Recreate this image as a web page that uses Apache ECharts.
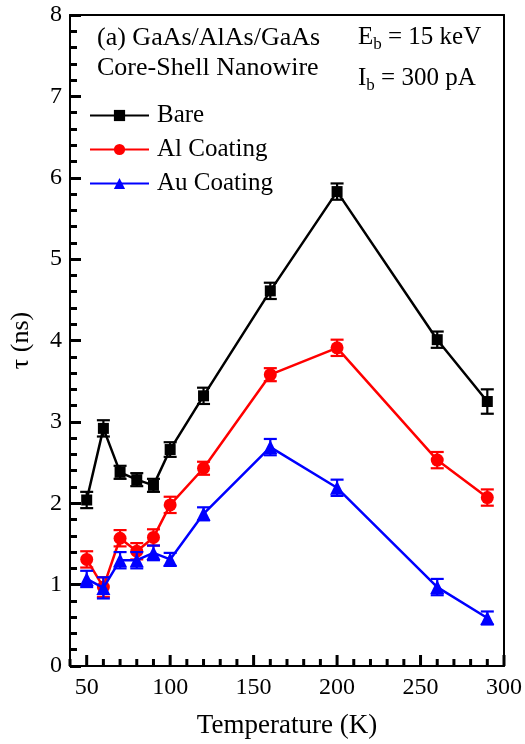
<!DOCTYPE html>
<html>
<head>
<meta charset="utf-8">
<script src="https://cdn.jsdelivr.net/npm/echarts@6/dist/echarts.min.js"></script>
<style>
  html, body { margin: 0; padding: 0; background: #fff; }
  #chart { width: 525px; height: 744px; }
</style>
</head>
<body>
<div id="chart"></div>
<script>
// Carrier lifetime vs temperature for GaAs/AlAs/GaAs core-shell nanowires
const temperatures = [50, 60, 70, 80, 90, 100, 120, 160, 200, 260, 290];

const bareTau = [2.04, 2.92, 2.38, 2.29, 2.22, 2.66, 3.32, 4.61, 5.83, 4.01, 3.25];
const bareErr = [0.10, 0.10, 0.08, 0.08, 0.08, 0.09, 0.10, 0.10, 0.10, 0.10, 0.15];

const alTau = [1.31, 0.97, 1.57, 1.41, 1.58, 1.98, 2.43, 3.58, 3.91, 2.53, 2.07];
const alErr = [0.10, 0.12, 0.10, 0.10, 0.10, 0.10, 0.08, 0.08, 0.10, 0.10, 0.10];

const auTau = [1.07, 0.96, 1.30, 1.30, 1.39, 1.31, 1.87, 2.69, 2.19, 0.97, 0.59];
const auErr = [0.10, 0.13, 0.10, 0.10, 0.09, 0.08, 0.08, 0.10, 0.10, 0.10, 0.08];

const seriesNames = ['Bare', 'Al Coating', 'Au Coating'];

// tick positions on the temperature axis
const xMajorTicks = [50, 100, 150, 200, 250, 300];
const xMinorTicks = [40, 60, 70, 80, 90, 110, 120, 130, 140, 160, 170, 180, 190,
                     210, 220, 230, 240, 260, 270, 280, 290];

const X_MIN = 40, X_MAX = 300, Y_MIN = 0, Y_MAX = 8;
const FONT = 'Liberation Serif';

function pairs(vals) {
  return temperatures.map((t, i) => [t, vals[i]]);
}
function errRows(vals, errs) {
  return temperatures.map((t, i) => [t, vals[i] - errs[i], vals[i] + errs[i]]);
}

function errorBarSeries(name, color, vals, errs, z) {
  return {
    name: name,
    type: 'custom',
    z: z,
    silent: true,
    data: errRows(vals, errs),
    encode: { x: 0, y: [1, 2] },
    renderItem: function (params, api) {
      const x = api.value(0);
      const lo = api.coord([x, api.value(1)]);
      const hi = api.coord([x, api.value(2)]);
      const half = 6.5;
      const style = { stroke: color, lineWidth: 2.2, fill: null };
      return {
        type: 'group',
        children: [
          { type: 'line', shape: { x1: lo[0], y1: lo[1], x2: hi[0], y2: hi[1] }, style: style },
          { type: 'line', shape: { x1: lo[0] - half, y1: lo[1], x2: lo[0] + half, y2: lo[1] }, style: style },
          { type: 'line', shape: { x1: hi[0] - half, y1: hi[1], x2: hi[0] + half, y2: hi[1] }, style: style }
        ]
      };
    }
  };
}

function lineSeries(name, color, vals, symbol, size, z) {
  return {
    name: name,
    type: 'line',
    z: z,
    data: pairs(vals),
    symbol: symbol,
    symbolSize: size,
    showSymbol: true,
    lineStyle: { color: color, width: 2.5 },
    itemStyle: { color: color, borderWidth: 0 },
    emphasis: { disabled: true },
    animation: false
  };
}

// upward ticks on the bottom frame; each row is [x, y, y]
function xTickSeries(name, rows, len) {
  return {
    name: name,
    type: 'custom',
    silent: true,
    z: 10,
    data: rows,
    encode: { x: 0, y: [1, 2] },
    renderItem: function (params, api) {
      const p = api.coord([api.value(0), api.value(1)]);
      const style = { stroke: '#000000', lineWidth: 3, fill: null };
      return {
        type: 'group',
        children: [
          { type: 'line', shape: { x1: p[0], y1: p[1], x2: p[0], y2: p[1] - len }, style: style }
        ]
      };
    }
  };
}

const chart = echarts.init(document.getElementById('chart'), null, { renderer: 'canvas' });

chart.setOption({
  backgroundColor: '#ffffff',
  animation: false,
  textStyle: { fontFamily: FONT, color: '#000' },
  grid: { left: 68, right: 20, top: 15, bottom: 72, show: false },
  legend: {
    data: seriesNames,
    orient: 'vertical',
    left: 89,
    top: 103,
    padding: 0,
    itemWidth: 59,
    itemHeight: 14,
    itemGap: 9,
    textStyle: { fontFamily: FONT, fontSize: 25, color: '#000', padding: [0, 0, 0, 3] },
    selectedMode: false
  },
  xAxis: [
    {
      type: 'value',
      position: 'bottom',
      min: X_MIN, max: X_MAX, interval: 10,
      name: 'Temperature (K)',
      nameLocation: 'middle',
      nameGap: 46,
      nameTextStyle: { fontFamily: FONT, fontSize: 27, color: '#000' },
      axisLine: { show: true, onZero: false, lineStyle: { color: '#000', width: 2 } },
      axisTick: { show: false },
      axisLabel: {
        show: true, interval: 0, margin: 10,
        fontFamily: FONT, fontSize: 24, color: '#000',
        formatter: function (v) { return xMajorTicks.indexOf(v) >= 0 ? String(v) : ''; }
      },
      splitLine: { show: false }
    },
    {
      // top frame line
      type: 'value',
      position: 'top',
      min: X_MIN, max: X_MAX, interval: 10,
      axisLine: { show: true, onZero: false, lineStyle: { color: '#000', width: 2 } },
      axisTick: { show: false },
      axisLabel: { show: false },
      splitLine: { show: false }
    }
  ],
  yAxis: [
    {
      type: 'value',
      position: 'left',
      min: Y_MIN, max: Y_MAX, interval: 1,
      name: 'τ (ns)',
      nameLocation: 'middle',
      nameGap: 36,
      nameTextStyle: { fontFamily: FONT, fontSize: 26, color: '#000' },
      axisLine: { show: true, onZero: false, lineStyle: { color: '#000', width: 2 } },
      axisTick: { show: true, inside: true, length: 11, lineStyle: { color: '#000', width: 3 } },
      minorTick: { show: true, splitNumber: 5, length: 7, lineStyle: { color: '#000', width: 3 } },
      axisLabel: { margin: 8, fontFamily: FONT, fontSize: 24, color: '#000' },
      splitLine: { show: false }
    },
    {
      // right frame line
      type: 'value',
      position: 'right',
      min: Y_MIN, max: Y_MAX, interval: 1,
      axisLine: { show: true, onZero: false, lineStyle: { color: '#000', width: 2 } },
      axisTick: { show: false },
      axisLabel: { show: false },
      splitLine: { show: false }
    }
  ],
  graphic: [
    {
      type: 'text', left: 97, top: 25, z: 100,
      style: { text: '(a) GaAs/AlAs/GaAs', font: '26px "Liberation Serif"', fill: '#000' }
    },
    {
      type: 'text', left: 97, top: 55, z: 100,
      style: { text: 'Core-Shell Nanowire', font: '26px "Liberation Serif"', fill: '#000' }
    },
    {
      type: 'text', left: 358, top: 25, z: 100,
      style: {
        text: '{n|E}{s|b}{n| = 15 keV}',
        rich: {
          n: { fontFamily: FONT, fontSize: 25, fill: '#000', color: '#000' },
          s: { fontFamily: FONT, fontSize: 17, fill: '#000', color: '#000', padding: [14, 0, 0, 0] }
        }
      }
    },
    {
      type: 'text', left: 358, top: 66, z: 100,
      style: {
        text: '{n|I}{s|b}{n| = 300 pA}',
        rich: {
          n: { fontFamily: FONT, fontSize: 25, fill: '#000', color: '#000' },
          s: { fontFamily: FONT, fontSize: 17, fill: '#000', color: '#000', padding: [14, 0, 0, 0] }
        }
      }
    }
  ],
  series: [
    xTickSeries('x major ticks', xMajorTicks.map(v => [v, Y_MIN, Y_MIN]), 11),
    xTickSeries('x minor ticks', xMinorTicks.map(v => [v, Y_MIN, Y_MIN]), 7),
    errorBarSeries('Bare error', '#000000', bareTau, bareErr, 2),
    lineSeries('Bare', '#000000', bareTau, 'rect', 11, 3),
    errorBarSeries('Al error', '#ff0000', alTau, alErr, 4),
    lineSeries('Al Coating', '#ff0000', alTau, 'circle', 13, 5),
    errorBarSeries('Au error', '#0000ff', auTau, auErr, 6),
    lineSeries('Au Coating', '#0000ff', auTau, 'triangle', 14, 7)
  ]
});
</script>
</body>
</html>
